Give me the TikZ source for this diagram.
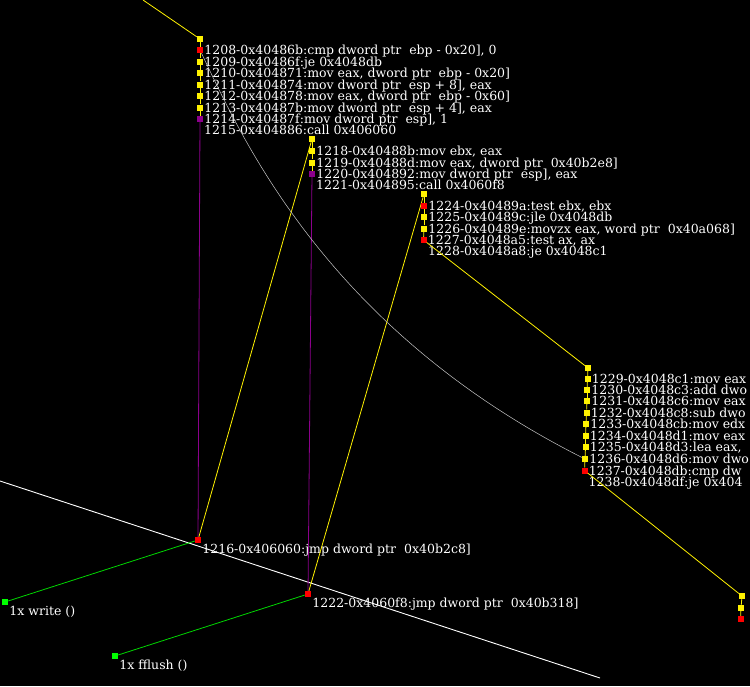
\documentclass[tikz,border=0pt]{standalone}
\usepackage{fontspec}
\setmainfont{DejaVu Serif}
\newcommand\insfont{\fontsize{12.5}{14}\selectfont}
\definecolor{callpurple}{RGB}{140,0,140}
\definecolor{libgreen}{RGB}{0,215,0}
\definecolor{backgray}{RGB}{200,200,200}

\begin{document}
\begin{tikzpicture}[x=1pt,y=-1pt,>=latex,
    op/.style={rectangle,fill=yellow,minimum size=6pt,inner sep=0pt},
    cmpop/.style={op,fill=red},
    callop/.style={op,fill=callpurple},
    lib/.style={op,fill=green},
    insn/.style={anchor=west,text=white,font=\insfont,inner sep=1pt,text height=9.1pt,text depth=0pt},
    every label/.style={text=white,font=\insfont,inner sep=1pt,text height=9.1pt,text depth=0pt},
    label distance=0pt,
    flow/.style={draw=yellow,line width=0.8pt},
    callflow/.style={draw=callpurple,line width=0.8pt},
    libflow/.style={draw=libgreen,line width=0.8pt},
    axis/.style={draw=white,line width=0.9pt},
    back/.style={draw=backgray,line width=0.5pt}]
    \useasboundingbox (0,0) rectangle (750,686);
    \fill[black] (0,0) rectangle (750,686);
    \clip (0,0) rectangle (750,686);
    \coordinate (ax0) at (0,481);
    \coordinate (ax1) at (600,678);
    \draw[axis] (ax0) -- (ax1);
    \coordinate (entry) at (143,0);

    \node[op] (t1) at (200,39) {}
    edge[flow] (entry);
    \node[cmpop,label=right:{1208-0x40486b:cmp dword ptr~~ebp - 0x20], 0}] (i1208) at (200,50) {}
    edge[flow] (t1);
    \node[op,label=right:{1209-0x40486f:je 0x4048db}] (i1209) at (200,61.5) {}
    edge[flow] (i1208);
    \node[op,label=right:{1210-0x404871:mov eax, dword ptr~~ebp - 0x20]}] (i1210) at (200,73) {}
    edge[flow] (i1209);
    \node[op,label=right:{1211-0x404874:mov dword ptr~~esp + 8], eax}] (i1211) at (200,84.5) {}
    edge[flow] (i1210);
    \node[op,label=right:{1212-0x404878:mov eax, dword ptr~~ebp - 0x60]}] (i1212) at (200,96) {}
    edge[flow] (i1211);
    \node[op,label=right:{1213-0x40487b:mov dword ptr~~esp + 4], eax}] (i1213) at (200,107.5) {}
    edge[flow] (i1212);
    \node[callop,label=right:{1214-0x40487f:mov dword ptr~~esp], 1}] (i1214) at (200,119) {}
    edge[flow] (i1213);
    \node[insn] (i1215) at (203,130) {1215-0x404886:call 0x406060};

    \node[cmpop,label=below right:{1216-0x406060:jmp dword ptr~~0x40b2c8]}] (i1216) at (198,540) {}
    edge[callflow] (i1214);
    \node[lib,label=below right:{1x write ()}] (w1) at (5,602) {}
    edge[libflow] (i1216);

    \node[op] (t2) at (312,139) {}
    edge[flow] (i1216);
    \node[op,label=right:{1218-0x40488b:mov ebx, eax}] (i1218) at (312,151) {}
    edge[flow] (t2);
    \node[op,label=right:{1219-0x40488d:mov eax, dword ptr~~0x40b2e8]}] (i1219) at (312,162.5) {}
    edge[flow] (i1218);
    \node[callop,label=right:{1220-0x404892:mov dword ptr~~esp], eax}] (i1220) at (312,174) {}
    edge[flow] (i1219);
    \node[insn] (i1221) at (315,185) {1221-0x404895:call 0x4060f8};

    \node[cmpop,label=below right:{1222-0x4060f8:jmp dword ptr~~0x40b318]}] (i1222) at (308,594) {}
    edge[callflow] (i1220);
    \node[lib,label=below right:{1x fflush ()}] (f1) at (115,656) {}
    edge[libflow] (i1222);

    \node[op] (t3) at (424,194) {}
    edge[flow] (i1222);
    \node[cmpop,label=right:{1224-0x40489a:test ebx, ebx}] (i1224) at (424,206) {}
    edge[flow] (t3);
    \node[op,label=right:{1225-0x40489c:jle 0x4048db}] (i1225) at (424,217) {}
    edge[flow] (i1224);
    \node[op,label=right:{1226-0x40489e:movzx eax, word ptr~~0x40a068]}] (i1226) at (424,228.5) {}
    edge[flow] (i1225);
    \node[cmpop,label=right:{1227-0x4048a5:test ax, ax}] (i1227) at (423.5,240) {}
    edge[flow] (i1226);
    \node[insn] (i1228) at (427,251) {1228-0x4048a8:je 0x4048c1};

    \node[op] (t4) at (588,368) {}
    edge[flow] (i1227);
    \node[op,label=right:{1229-0x4048c1:mov eax}] (i1229) at (587.5,379) {}
    edge[flow] (t4);
    \node[op,label=right:{1230-0x4048c3:add dwo}] (i1230) at (587,390) {}
    edge[flow] (i1229);
    \node[op,label=right:{1231-0x4048c6:mov eax}] (i1231) at (587,401) {}
    edge[flow] (i1230);
    \node[op,label=right:{1232-0x4048c8:sub dwo}] (i1232) at (586.5,412.5) {}
    edge[flow] (i1231);
    \node[op,label=right:{1233-0x4048cb:mov edx}] (i1233) at (586,424) {}
    edge[flow] (i1232);
    \node[op,label=right:{1234-0x4048d1:mov eax}] (i1234) at (585.5,436) {}
    edge[flow] (i1233);
    \node[op,label=right:{1235-0x4048d3:lea eax,}] (i1235) at (585.5,447) {}
    edge[flow] (i1234);
    \node[op,label=right:{1236-0x4048d6:mov dwo}] (i1236) at (585,459) {}
    edge[flow] (i1235);
    \node[cmpop,label=right:{1237-0x4048db:cmp dw}] (i1237) at (584.5,470.5) {}
    edge[flow] (i1236);
    \node[insn] (i1238) at (587.5,482) {1238-0x4048df:je 0x404};

    \node[op] (t5) at (742,596) {}
    edge[flow] (i1237);
    \node[op] (i5a) at (741,608) {}
    edge[flow] (t5);
    \node[cmpop] (i5b) at (740.5,619) {}
    edge[flow] (i5a);

    \draw[back] (i1208) .. controls (245,145) and (330,330) .. (i1236);
  \end{tikzpicture}
\end{document}
